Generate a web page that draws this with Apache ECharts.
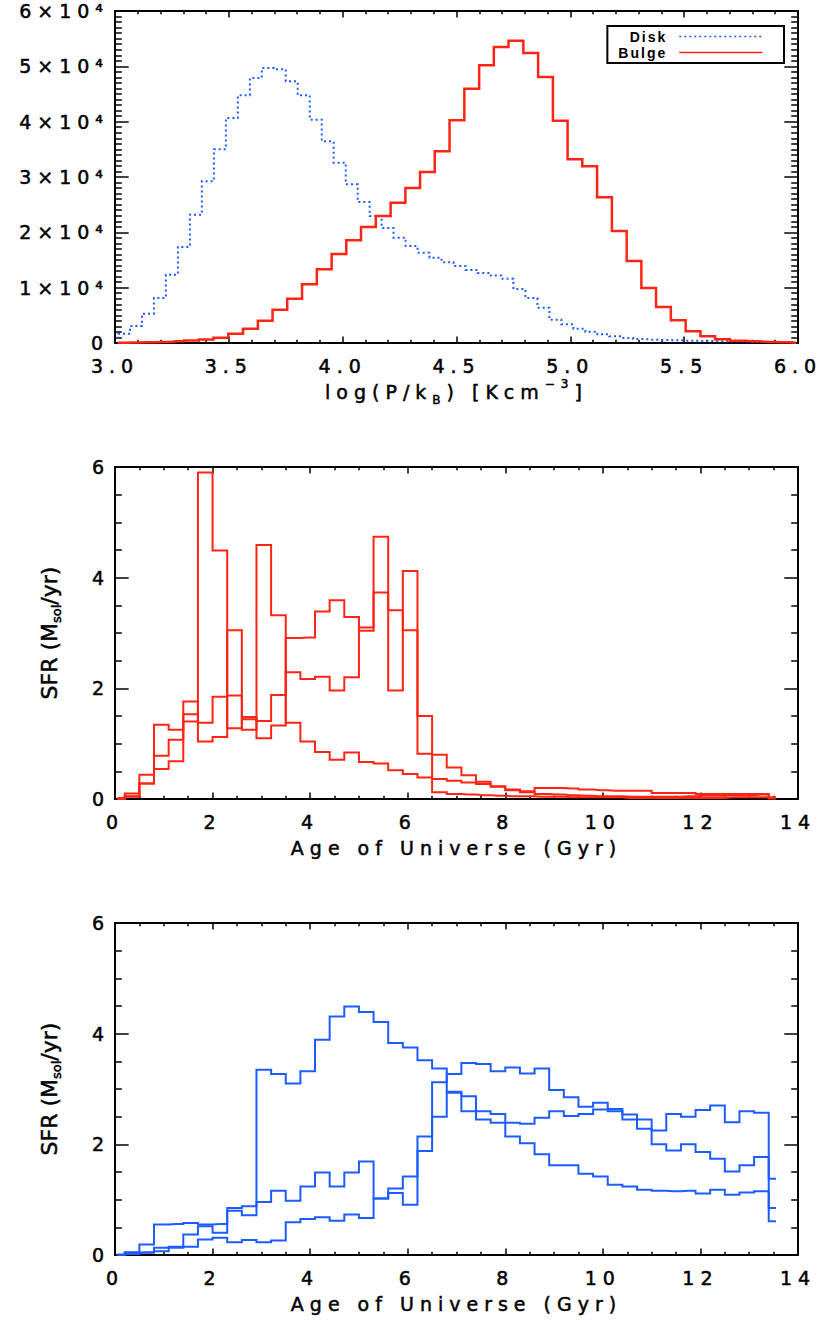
<!DOCTYPE html>
<html>
<head>
<meta charset="utf-8">
<title>Midplane pressure and star formation histories</title>
<script src="https://cdn.jsdelivr.net/npm/echarts@6.0.0/dist/echarts.min.js"></script>
<style>
  html, body { margin: 0; padding: 0; background: #fff; }
  #chart { width: 822px; height: 1320px; }
  /* wide tracking for axis lettering */
  #chart text { letter-spacing: 6px; }
  /* rotated y titles are set without extra tracking */
  #chart text[style*="22px"], #chart text[style*="13px"] { letter-spacing: 0; }
  /* legend entries */
  #chart text[style*="Liberation"] { letter-spacing: 2px; }
</style>
</head>
<body>
<div id="chart"></div>
<script>
// ---------- top panel: distribution of log(P/k_B) ----------
const diskLogP = [2.987, 3.040, 3.092, 3.145, 3.197, 3.250, 3.303, 3.355, 3.408, 3.461,
  3.513, 3.566, 3.619, 3.671, 3.724, 3.776, 3.829, 3.882, 3.934, 3.987,
  4.040, 4.092, 4.145, 4.197, 4.250, 4.303, 4.355, 4.408, 4.461, 4.513,
  4.566, 4.619, 4.671, 4.724, 4.776, 4.829, 4.882, 4.934, 4.987, 5.040,
  5.092, 5.145, 5.197, 5.250, 5.303, 5.355, 5.408, 5.461, 5.513, 5.566,
  5.619, 5.671, 5.724, 5.776, 5.829, 5.882, 5.934, 5.987];
const diskCounts = [960, 1690, 3070, 5300, 8130, 12350, 17350, 23190, 29220, 35000,
  40660, 44760, 47890, 49700, 49460, 47290, 44760, 40360, 36450, 32590,
  28670, 25480, 22950, 20780, 19040, 17530, 16330, 15400, 14600, 13900,
  13200, 12650, 12200, 11600, 9760, 8130, 6390, 4220, 3370, 2590,
  2050, 1570, 1200, 900, 720, 600, 540, 480, 420, 380,
  340, 300, 270, 240, 220, 200, 180, 160];
const bulgeLogP = [3.012, 3.076, 3.141, 3.206, 3.271, 3.336, 3.400, 3.465, 3.530, 3.595,
  3.660, 3.724, 3.789, 3.854, 3.919, 3.984, 4.048, 4.113, 4.178, 4.243,
  4.308, 4.372, 4.437, 4.502, 4.567, 4.632, 4.696, 4.761, 4.826, 4.891,
  4.956, 5.020, 5.085, 5.150, 5.215, 5.280, 5.344, 5.409, 5.474, 5.539,
  5.604, 5.668, 5.733, 5.798, 5.863, 5.928, 5.992];
const bulgeCounts = [50, 80, 120, 200, 300, 450, 650, 960, 1690, 2590,
  4040, 6020, 8010, 10600, 13310, 16080, 18550, 20960, 22950, 25360,
  28010, 30900, 34640, 40240, 45960, 50180, 53490, 54640, 52410, 48070,
  40180, 33190, 31930, 26330, 20240, 14820, 9940, 6510, 4100, 2110,
  1200, 660, 420, 300, 180, 120, 60];

// ---------- lower panels: star formation rate vs. age of the Universe ----------
const ageGyr = [0.05, 0.35, 0.65, 0.95, 1.25, 1.55, 1.85, 2.15, 2.45, 2.75,
  3.05, 3.35, 3.65, 3.95, 4.25, 4.55, 4.85, 5.15, 5.45, 5.75,
  6.05, 6.35, 6.65, 6.95, 7.25, 7.55, 7.85, 8.15, 8.45, 8.75,
  9.05, 9.35, 9.65, 9.95, 10.25, 10.55, 10.85, 11.15, 11.45, 11.75,
  12.05, 12.35, 12.65, 12.95, 13.25, 13.55];

// bulge star formation rates (M_sol/yr), three galaxies
const bulgeSfr1 = [0.02, 0.10, 0.44, 0.78, 1.07, 1.40, 5.90, 4.49, 1.28, 1.44,
  1.10, 1.33, 2.29, 2.17, 2.21, 1.96, 2.20, 3.10, 3.73, 3.41,
  3.05, 1.50, 0.12, 0.09, 0.08, 0.07, 0.06, 0.05, 0.05, 0.04,
  0.04, 0.03, 0.03, 0.03, 0.03, 0.02, 0.02, 0.02, 0.02, 0.02,
  0.02, 0.02, 0.03, 0.03, 0.03, 0.01];
const bulgeSfr2 = [0.00, 0.05, 0.28, 0.54, 0.68, 1.76, 1.04, 1.12, 1.87, 1.48,
  1.41, 1.88, 2.91, 2.92, 3.39, 3.59, 3.29, 3.04, 4.74, 1.96,
  4.12, 0.82, 0.80, 0.57, 0.43, 0.31, 0.22, 0.17, 0.12, 0.09,
  0.08, 0.07, 0.06, 0.05, 0.05, 0.04, 0.04, 0.04, 0.04, 0.05,
  0.06, 0.06, 0.07, 0.07, 0.08, 0.03];
const bulgeSfr3 = [0.00, 0.04, 0.28, 1.34, 1.25, 1.53, 1.38, 1.85, 3.05, 1.25,
  4.59, 3.32, 1.38, 1.04, 0.85, 0.71, 0.84, 0.67, 0.64, 0.52,
  0.45, 0.39, 0.36, 0.33, 0.30, 0.27, 0.23, 0.16, 0.14, 0.20,
  0.20, 0.19, 0.17, 0.16, 0.15, 0.15, 0.15, 0.11, 0.11, 0.11,
  0.09, 0.09, 0.09, 0.09, 0.09, 0.02];

// disk star formation rates (M_sol/yr), same three galaxies
const diskSfr1 = [0.01, 0.05, 0.19, 0.55, 0.56, 0.58, 0.55, 0.56, 0.80, 0.72,
  3.35, 3.27, 3.10, 3.32, 3.89, 4.31, 4.49, 4.39, 4.21, 3.83,
  3.75, 3.52, 3.37, 2.95, 2.87, 2.60, 2.55, 2.14, 2.02, 1.82,
  1.62, 1.62, 1.47, 1.42, 1.27, 1.24, 1.18, 1.16, 1.15, 1.16,
  1.11, 1.18, 1.09, 1.13, 1.15, 0.61];
const diskSfr2 = [0.00, 0.04, 0.05, 0.13, 0.15, 0.37, 0.52, 0.40, 0.85, 0.88,
  0.96, 1.16, 0.98, 1.24, 1.49, 1.24, 1.49, 1.69, 1.02, 1.12,
  0.91, 2.14, 2.50, 2.93, 2.60, 2.45, 2.39, 2.39, 2.37, 2.48,
  2.60, 2.51, 2.55, 2.63, 2.60, 2.45, 2.45, 2.25, 2.55, 2.50,
  2.62, 2.70, 2.40, 2.60, 2.57, 1.38];
const diskSfr3 = [0.00, 0.02, 0.04, 0.07, 0.13, 0.15, 0.28, 0.31, 0.23, 0.27,
  0.23, 0.26, 0.59, 0.65, 0.68, 0.62, 0.73, 0.67, 1.02, 1.20,
  1.42, 1.88, 3.12, 3.27, 3.47, 3.45, 3.32, 3.39, 3.28, 3.37,
  2.98, 2.85, 2.68, 2.75, 2.64, 2.54, 2.28, 2.00, 1.89, 2.00,
  1.86, 1.74, 1.51, 1.62, 1.77, 0.85];

// ---------- styling ----------
const FONT = 'DejaVu Sans';
const TRACK = 6;            // px of tracking applied by the stylesheet
const SIZE = 19;            // axis lettering size
const BLACK = '#000';
const RED = '#ff2414';
const BLUE = '#1c5cff';
const TICK = { color: BLACK, width: 1.5 };
const FRAME = { color: BLACK, width: 2 };
const INK = { textBorderColor: BLACK, textBorderWidth: 0.5 };

// Rich-text label with sub/superscripts; each run reserves room for its tracking.
function richLabel(parts, size, smallSize, track) {
  const rich = {};
  let text = '';
  parts.forEach(function (p, i) {
    const run = p[0], kind = p[1];
    const small = kind !== 'base';
    const st = Object.assign({
      fontFamily: FONT,
      fontSize: small ? smallSize : size,
      color: BLACK,
      align: 'left',
      lineHeight: small ? 12 : 28,
      padding: [0, track * Array.from(run).length, 0, 0]
    }, INK);
    if (kind === 'sup') st.verticalAlign = 'top';
    if (kind === 'sub') st.verticalAlign = 'bottom';
    rich['r' + i] = st;
    text += '{r' + i + '|' + run + '}';
  });
  return { text: text, rich: rich };
}

const pressureTitle = richLabel([['log(P/k', 'base'], ['B', 'sub'], [') [Kcm', 'base'], ['\u22123', 'sup'], [']', 'base']], SIZE, 12, TRACK);
const sfrTitle = richLabel([['SFR (M', 'base'], ['sol', 'sub'], ['/yr)', 'base']], 22, 13, 0);

function xAxisPair(grid, min, max, step, minorSplit, fmt, title) {
  const common = {
    type: 'value', gridIndex: grid, min: min, max: max, interval: step,
    axisLine: { show: true, onZero: false, lineStyle: FRAME },
    axisTick: { show: true, inside: true, length: 6.6, lineStyle: TICK },
    minorTick: { show: true, splitNumber: minorSplit, length: 3.3, lineStyle: TICK },
    splitLine: { show: false }, minorSplitLine: { show: false }
  };
  const bottom = Object.assign({}, common, {
    position: 'bottom',
    axisLabel: Object.assign({ show: true, margin: 13, color: BLACK, fontSize: SIZE, fontFamily: FONT, formatter: fmt }, INK),
    name: title.text, nameLocation: 'middle', nameGap: 35,
    nameTextStyle: Object.assign({ color: BLACK, fontSize: SIZE, fontFamily: FONT, lineHeight: 28, rich: title.rich }, INK)
  });
  const top = Object.assign({}, common, { position: 'top', axisLabel: { show: false } });
  return [bottom, top];
}

function yAxisPair(grid, min, max, step, minorSplit, fmt, title, margin) {
  const common = {
    type: 'value', gridIndex: grid, min: min, max: max, interval: step,
    axisLine: { show: true, onZero: false, lineStyle: FRAME },
    axisTick: { show: true, inside: true, length: 13.7, lineStyle: TICK },
    minorTick: { show: true, splitNumber: minorSplit, length: 6.8, lineStyle: TICK },
    splitLine: { show: false }, minorSplitLine: { show: false }
  };
  const left = Object.assign({}, common, {
    position: 'left',
    axisLabel: Object.assign({ show: true, margin: margin, color: BLACK, fontSize: SIZE, fontFamily: FONT, formatter: fmt }, INK)
  });
  if (title) {
    left.name = title.text;
    left.nameLocation = 'middle';
    left.nameGap = 52;
    left.nameTextStyle = Object.assign({ color: BLACK, fontSize: 22, fontFamily: FONT, lineHeight: 28, rich: title.rich }, INK);
  }
  const right = Object.assign({}, common, { position: 'right', axisLabel: { show: false } });
  return [left, right];
}

function stepSeries(name, xs, ys, xi, yi, color, width, dash) {
  return {
    type: 'line', name: name, xAxisIndex: xi, yAxisIndex: yi,
    step: 'middle', symbol: 'none', showSymbol: false, clip: true, silent: true,
    data: xs.map(function (x, i) { return [x, ys[i]]; }),
    lineStyle: { color: color, width: width, type: dash || 'solid', cap: 'butt', join: 'miter' },
    itemStyle: { color: color },
    emphasis: { disabled: true }
  };
}

const fmtPressure = function (v) { return v.toFixed(1); };
const fmtCounts = function (v) { return v === 0 ? '0' : (v / 10000) + '\u00d710\u2074'; };
const fmtPlain = function (v) { return String(v); };
const ageTitle = { text: 'Age of Universe (Gyr)', rich: {} };

const chart = echarts.init(document.getElementById('chart'), null, { renderer: 'svg', width: 822, height: 1320 });

chart.setOption({
  animation: false,
  backgroundColor: '#fff',
  textStyle: { fontFamily: FONT },
  grid: [
    { left: 115, top: 11, width: 683, height: 332, outerBoundsMode: 'none' },
    { left: 115, top: 467, width: 683, height: 332, outerBoundsMode: 'none' },
    { left: 115, top: 923, width: 683, height: 332, outerBoundsMode: 'none' }
  ],
  xAxis: [].concat(
    xAxisPair(0, 3, 6, 0.5, 5, fmtPressure, pressureTitle),
    xAxisPair(1, 0, 14, 2, 4, fmtPlain, ageTitle),
    xAxisPair(2, 0, 14, 2, 4, fmtPlain, ageTitle)
  ),
  yAxis: [].concat(
    yAxisPair(0, 0, 60000, 10000, 10, fmtCounts, null, 6),
    yAxisPair(1, 0, 6, 2, 4, fmtPlain, sfrTitle, 5),
    yAxisPair(2, 0, 6, 2, 4, fmtPlain, sfrTitle, 5)
  ),
  legend: {
    data: ['Disk', 'Bulge'],
    orient: 'vertical', align: 'right',
    right: 38, top: 26,
    itemWidth: 83, itemHeight: 14, itemGap: 2,
    padding: [3.5, 21, 3.5, 21],
    borderColor: BLACK, borderWidth: 2,
    selectedMode: false,
    lineStyle: { width: 1.5 },
    itemStyle: { opacity: 0, borderWidth: 0 },
    textStyle: { fontFamily: 'Liberation Sans', fontWeight: 'bold', fontSize: 14, color: BLACK, padding: [0, 7, 0, 0] }
  },
  series: [
    stepSeries('Disk', diskLogP, diskCounts, 0, 0, BLUE, 2, [2, 3]),
    stepSeries('Bulge', bulgeLogP, bulgeCounts, 0, 0, RED, 2.5),

    stepSeries('Bulge SFR 1', ageGyr, bulgeSfr1, 2, 2, RED, 2),
    stepSeries('Bulge SFR 2', ageGyr, bulgeSfr2, 2, 2, RED, 2),
    stepSeries('Bulge SFR 3', ageGyr, bulgeSfr3, 2, 2, RED, 2),

    stepSeries('Disk SFR 1', ageGyr, diskSfr1, 4, 4, BLUE, 2),
    stepSeries('Disk SFR 2', ageGyr, diskSfr2, 4, 4, BLUE, 2),
    stepSeries('Disk SFR 3', ageGyr, diskSfr3, 4, 4, BLUE, 2)
  ]
});
</script>
</body>
</html>
